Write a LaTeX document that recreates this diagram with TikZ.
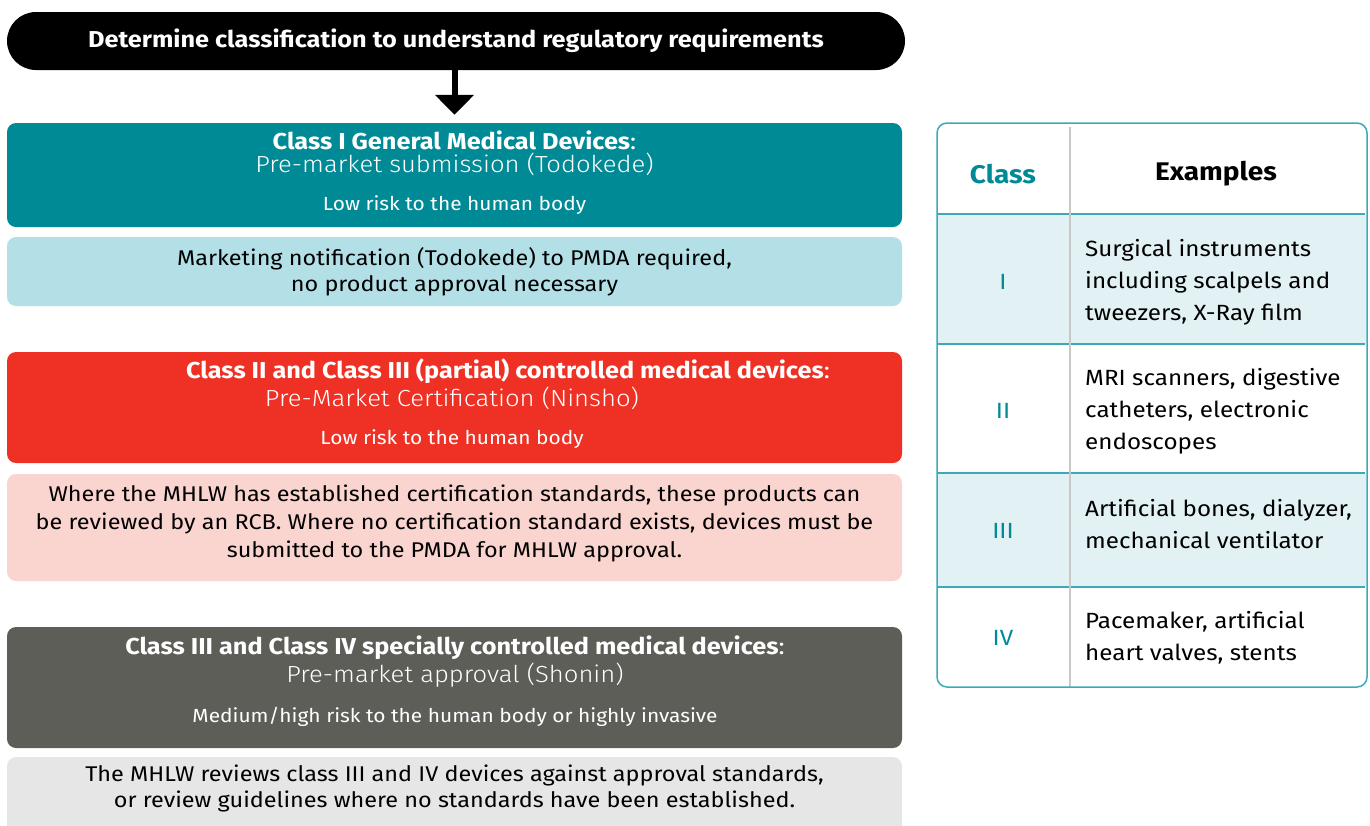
\documentclass[tikz,border=0pt]{standalone}
\usepackage{fontspec}
\setmainfont{Fira Sans}[FakeStretch=1.1]
\newfontfamily\lightfont{Fira Sans Light}[FakeStretch=1.1]
\usepackage{tikz}
\usetikzlibrary{arrows.meta}
\usetikzlibrary{calc}
\definecolor{tealdark}{HTML}{008A96}
\definecolor{teallight}{HTML}{B2E0E6}
\definecolor{reddark}{HTML}{EE3124}
\definecolor{redlight}{HTML}{FAD4CF}
\definecolor{greydark}{HTML}{5E5E58}
\definecolor{greylight}{HTML}{E6E6E6}
\definecolor{tablerow}{HTML}{E2F1F4}
\definecolor{tableline}{HTML}{3AAAB8}
\definecolor{tablegrid}{HTML}{C8C8C8}
\tikzstyle{band}=[rounded corners=9pt,inner sep=0pt,minimum width=895pt]
\tikzstyle{boxtitle}=[text=white,font=\bfseries\fontsize{23}{27}\selectfont]
\tikzstyle{boxsub}=[text=white,font=\lightfont\fontsize{23.3}{28}\selectfont]
\tikzstyle{boxrisk}=[text=white,font=\fontsize{19}{22}\selectfont]
\tikzstyle{boxnote}=[align=center,font=\fontsize{21.3}{26}\selectfont]
\tikzstyle{tblhead}=[font=\bfseries\fontsize{25.5}{29}\selectfont]
\tikzstyle{classcell}=[text=tealdark,font=\fontsize{22}{26}\selectfont]
\tikzstyle{excell}=[align=left,anchor=west,inner xsep=0pt,font=\fontsize{22}{32}\selectfont]
\begin{document}
\begin{tikzpicture}[x=1pt,y=-1pt]
\useasboundingbox (0,0) rectangle (1370,825);
\node[fill=black,rounded corners=29pt,minimum width=898pt,minimum height=58pt,inner sep=0pt,boxtitle] (goal) at (456,41) {Determine classification to understand regulatory requirements};
% class I
\node[band,fill=tealdark,minimum height=104pt] (c1) at (454.5,175) {};
\node[boxtitle] (c1a) at (454.5,140) {Class I General Medical Devices\mdseries:};
\node[boxsub] (c1b) at (454.5,164) {Pre-market submission (Todokede)};
\node[boxrisk] (c1c) at (454.5,205) {Low risk to the human body};
\node[band,fill=teallight,minimum height=69pt] (n1) at (454.5,271.5) {};
\node[boxnote] (n1txt) at (n1) {Marketing notification (Todokede) to PMDA required,\\no product approval necessary};
\draw[line width=6pt,-{Triangle[length=20pt,width=38pt]},shorten >=8pt] (goal.south -| c1.north) -- (c1.north);
% class II / III
\node[band,fill=reddark,minimum height=111pt] (c2) at (454.5,407.5) {};
\node[boxtitle] (c2a) at (508,371) {Class II and Class III (partial) controlled medical devices\mdseries:};
\node[boxsub] (c2b) at (452,398) {Pre-Market Certification (Ninsho)};
\node[boxrisk] (c2c) at (452,439) {Low risk to the human body};
\node[band,fill=redlight,minimum height=107pt] (n2) at (454.5,527.5) {};
\node[boxnote,font=\fontsize{21.3}{28}\selectfont] (n2txt) at (454.5,523) {Where the MHLW has established certification standards, these products can\\be reviewed by an RCB. Where no certification standard exists, devices must be\\submitted to the PMDA for MHLW approval.};
% class III / IV
\node[band,fill=greydark,minimum height=121pt] (c3) at (454.5,687.5) {};
\node[boxtitle] (c3a) at (455,648) {Class III and Class IV specially controlled medical devices\mdseries:};
\node[boxsub] (c3b) at (455,675) {Pre-market approval (Shonin)};
\node[boxrisk] (c3c) at (455,717) {Medium/high risk to the human body or highly invasive};
\begin{scope}
\clip (0,0) rectangle (1370,825);
\node[band,fill=greylight,minimum height=80pt] (n3) at (454.5,797) {};
\end{scope}
\node[boxnote] (n3txt) at (454.5,788) {The MHLW reviews class III and IV devices against approval standards,\\or review guidelines where no standards have been established.};
% table
\fill[tablerow] (938,214) rectangle (1366,344);
\fill[tablerow] (938,473) rectangle (1366,587);
\foreach \y in {214,344,473,587}
  \draw[tableline,line width=1.2pt] (937,\y) -- (1365,\y);
\draw[tablegrid,line width=1.2pt] (1070,127) -- (1070,687);
\node[draw=tableline,line width=1.5pt,rounded corners=10pt,minimum width=430pt,minimum height=564pt,inner sep=0pt] (tbl) at (1152,405) {};
\node[tblhead,text=tealdark] (hclass) at (1003,174) {Class};
\node[tblhead] (hex) at (1216,174) {Examples};
\node[classcell] (r1) at (1003,282) {I};
\node[excell] (e1) at (1085,282) {Surgical instruments\\including scalpels and\\tweezers, X-Ray film};
\node[classcell] (r2) at (1003,411) {II};
\node[excell] (e2) at (1085,411) {MRI scanners, digestive\\catheters, electronic\\endoscopes};
\node[classcell] (r3) at (1003,531) {III};
\node[excell] (e3) at (1085,524) {Artificial bones, dialyzer,\\mechanical ventilator};
\node[classcell] (r4) at (1003,638) {IV};
\node[excell] (e4) at (1085,638) {Pacemaker, artificial\\heart valves, stents};
\end{tikzpicture}
\end{document}
